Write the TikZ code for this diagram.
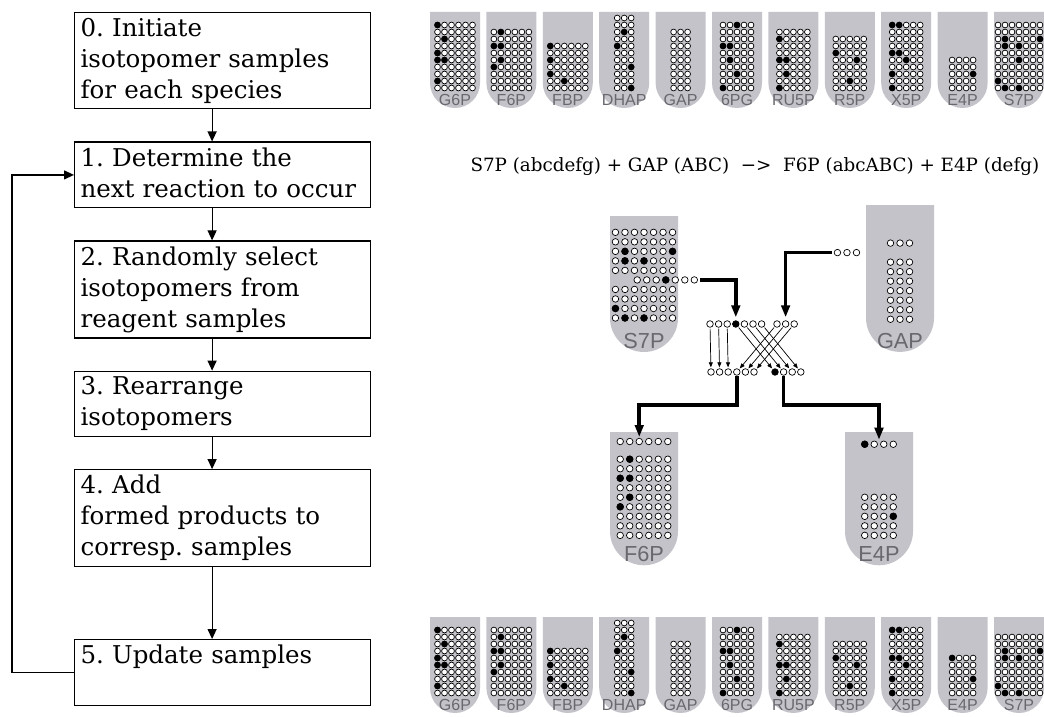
\documentclass[tikz,border=0pt]{standalone}
\usepackage{fontspec}
\setmainfont{DejaVu Serif}
\newfontfamily\labelfont{Liberation Sans}
\usepackage{tikz}
\usetikzlibrary{positioning,arrows.meta}
\frenchspacing

\definecolor{tubegray}{RGB}{196,195,201}
\definecolor{labelgray}{RGB}{104,104,110}

\newcommand{\dotr}{2.9}

\newcommand{\tube}[5]{%
  \fill[tubegray] (#1,#2) -- ++(0,#3-25) arc[start angle=180,end angle=0,radius=25] -- ++(0,25-#3) -- cycle;
  \node[tubelabel] (#5) at ({#1+25},{#2+#3-8}) {#4};}

\newcommand{\dotgrid}[5]{%
  \foreach \cc in {1,...,#3}
    \foreach \rr in {1,...,#4}
      \draw[opendot] ({#1+(\cc-(#3+1)/2)*7},{#2-(#4-\rr)*7}) circle[radius=\dotr];
  \foreach \cc/\rr in {#5}
    {\ifnum\cc>0 \fill ({#1+(\cc-(#3+1)/2)*7},{#2-(#4-\rr)*7}) circle[radius=\dotr+0.3];\fi}}

\newcommand{\sample}[7]{%
  \begin{scope}[shift={({430+56.4*#1},#2)}]
    \tube{0}{0}{96}{#3}{#7}
    \dotgrid{25}{76}{#4}{#5}{#6}
  \end{scope}}

\begin{document}
\begin{tikzpicture}[x=1pt,y=-1pt,node distance=32pt,
  box/.style={draw,line width=1.2pt,text width=284pt,inner xsep=6pt,inner ysep=5.5pt,align=left,font=\fontsize{24.5}{31}\selectfont},
  flowarrow/.style={-{Triangle[length=10pt,width=9pt]},line width=1.2pt},
  bigarrow/.style={-{Triangle[length=12pt,width=8.5pt]},line width=3.6pt,shorten >=3pt},
  thinarrow/.style={-{Triangle[length=5pt,width=4pt]},line width=0.7pt,shorten <=1pt,shorten >=1pt},
  opendot/.style={draw,fill=white,line width=0.7pt},
  rdot/.style={circle,draw,fill=white,line width=0.7pt,minimum size=6.6pt,inner sep=0pt},
  rfull/.style={rdot,fill=black},
  tubelabel/.style={font=\labelfont\fontsize{16}{16}\selectfont,text=labelgray,inner sep=0pt}]

  \useasboundingbox (0,0) rectangle (1044,717);

  \node[box,anchor=north west] (s0) at (74,12) {0. Initiate\\isotopomer samples\\for each species\vphantom{p}};
  \node[box,below=of s0] (s1) {1. Determine the\\next reaction to occur\vphantom{p}};
  \node[box,below=of s1] (s2) {2. Randomly select\\isotopomers from\\reagent samples\vphantom{p}};
  \node[box,below=of s2] (s3) {3. Rearrange\\isotopomers\vphantom{p}};
  \node[box,below=of s3] (s4) {4. Add\\formed products to\\corresp. samples\vphantom{p}};
  \node[box,below=72pt of s4] (s5) {5. Update samples\\\vphantom{p}};

  \foreach \a/\b in {s0/s1,s1/s2,s2/s3,s3/s4,s4/s5}
    \draw[flowarrow] ([xshift=-10.5pt]\a.south) -- ([xshift=-10.5pt]\b.north);
  \draw[flowarrow] (s5.west) -- ++(-62,0) |- (s1.west);

  \sample{0}{12}{G6P}{6}{10}{1/1,2/3,1/5,1/6,2/6,1/9}{topG6P}
  \sample{1}{12}{F6P}{6}{9}{2/1,1/3,2/3,2/5,1/6}{topF6P}
  \sample{2}{12}{FBP}{6}{7}{1/1,1/3,1/5,3/6}{topFBP}
  \sample{3}{12}{DHAP}{3}{11}{2/3,1/5,3/8,3/11}{topDHAP}
  \sample{4}{12}{GAP}{3}{9}{0/0}{topGAP}
  \sample{5}{12}{6PG}{5}{10}{3/1,1/4,2/4,2/6,3/8,1/10}{top6PG}
  \sample{6}{12}{RU5P}{5}{9}{1/2,1/5,2/5,2/7,1/9}{topRU5P}
  \sample{7}{12}{R5P}{5}{8}{1/3,4/4,3/7}{topR5P}
  \sample{8}{12}{X5P}{5}{10}{1/1,2/1,1/5,2/5,3/6,1/8,1/10}{topX5P}
  \sample{9}{12}{E4P}{4}{5}{4/3}{topE4P}
  \sample{10}{12}{S7P}{7}{10}{2/3,7/3,2/4,4/4,4/6,1/9,2/10,4/10}{topS7P}

  \node[anchor=west,font=\fontsize{18.3}{20}\selectfont] (eqn) at (467,167)
    {S7P (abcdefg) + GAP (ABC)\ \ −>\ \ F6P (abcABC) + E4P (defg)};

  \begin{scope}[shift={(610,216)},scale=1.36,transform shape]
    \renewcommand{\dotr}{2.4}
    \tube{0}{0}{100}{S7P}{midS7P}
    \dotgrid{25}{40}{7}{5}{2/3,7/3,2/4,4/4}
    \dotgrid{41}{47}{7}{1}{4/1}
    \dotgrid{25}{75}{7}{4}{1/3,2/4,4/4}
    \coordinate (s7pend) at (66,47);
  \end{scope}

  \begin{scope}[shift={(866,205)},scale=1.36,transform shape]
    \renewcommand{\dotr}{2.4}
    \tube{0}{0}{108}{GAP}{midGAP}
    \dotgrid{25}{28}{3}{1}{0/0}
    \dotgrid{-14}{35}{3}{1}{0/0}
    \dotgrid{25}{84}{3}{7}{0/0}
    \coordinate (gapend) at (-25,35);
  \end{scope}

  \begin{scope}[shift={(610,432)},scale=1.36,transform shape]
    \renewcommand{\dotr}{2.4}
    \tube{0}{0}{98}{F6P}{midF6P}
    \dotgrid{25}{7}{6}{1}{0/0}
    \dotgrid{25}{76}{6}{9}{2/1,1/3,2/3,2/5,1/6}
    \coordinate (f6pin) at (21.5,7);
  \end{scope}

  \begin{scope}[shift={(845,432)},scale=1.36,transform shape]
    \renewcommand{\dotr}{2.4}
    \tube{0}{0}{98}{E4P}{midE4P}
    \dotgrid{25}{9}{4}{1}{1/1}
    \dotgrid{25}{76}{4}{5}{4/3}
    \coordinate (e4pin) at (25,9);
  \end{scope}

  \foreach \px/\sty [count=\n] in {710/rdot,718.6/rdot,727.2/rdot,735.8/rfull,744.4/rdot,753/rdot,761.6/rdot,777/rdot,785.6/rdot,794.2/rdot}
    \node[\sty] (t\n) at (\px,324) {};
  \foreach \px [count=\n] in {711,719.6,728.2,736.8,745.4,754}
    \node[rdot] (b\n) at (\px,372) {};
  \foreach \px/\sty [count=\n] in {775/rfull,783.6/rdot,792.2/rdot,800.8/rdot}
    \node[\sty] (e\n) at (\px,372) {};

  \foreach \i/\j in {1/1,2/2,3/3,8/4,9/5,10/6}
    \draw[thinarrow] (t\i) -- (b\j);
  \foreach \i/\j in {4/1,5/2,6/3,7/4}
    \draw[thinarrow] (t\i) -- (e\j);

  \draw[bigarrow] (s7pend) -| (t4);
  \draw[bigarrow] (gapend) -| (t9);
  \draw[bigarrow,shorten >=4.5pt] (b4) -- ++(0,33) -| (f6pin);
  \draw[bigarrow,shorten >=4.5pt] (e2) -- ++(0,33) -| (e4pin);

  \sample{0}{617}{G6P}{6}{10}{1/1,2/3,1/5,1/6,2/6,1/9}{botG6P}
  \sample{1}{617}{F6P}{6}{10}{2/2,1/4,2/4,2/6,1/7}{botF6P}
  \sample{2}{617}{FBP}{6}{7}{1/1,1/3,1/5,3/6}{botFBP}
  \sample{3}{617}{DHAP}{3}{11}{2/3,1/5,3/8,3/11}{botDHAP}
  \sample{4}{617}{GAP}{3}{8}{0/0}{botGAP}
  \sample{5}{617}{6PG}{5}{10}{3/1,1/4,2/4,2/6,3/8,1/10}{bot6PG}
  \sample{6}{617}{RU5P}{5}{9}{1/2,1/5,2/5,2/7,1/9}{botRU5P}
  \sample{7}{617}{R5P}{5}{8}{1/3,4/4,3/7}{botR5P}
  \sample{8}{617}{X5P}{5}{10}{1/1,2/1,1/5,2/5,3/6,1/8,1/10}{botX5P}
  \sample{9}{617}{E4P}{4}{6}{1/1,4/4}{botE4P}
  \sample{10}{617}{S7P}{7}{9}{2/3,7/3,2/4,4/4,1/8,2/9,4/9}{botS7P}
\end{tikzpicture}
\end{document}
